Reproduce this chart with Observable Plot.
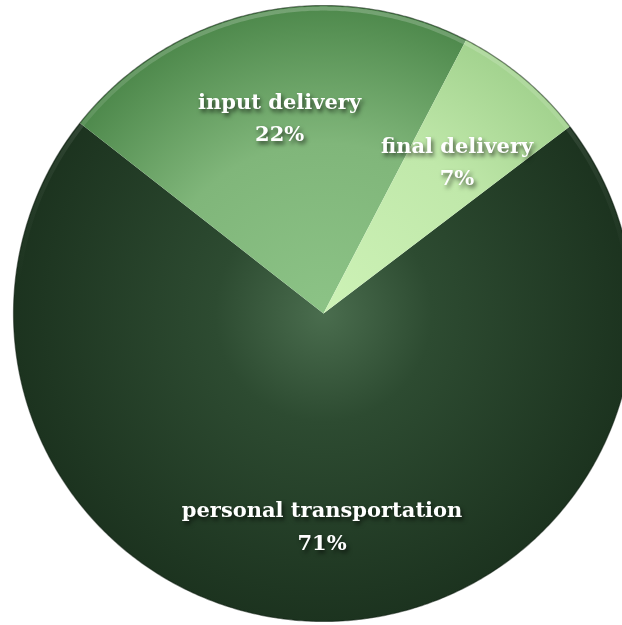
<!DOCTYPE html>
<html><head><meta charset="utf-8">
<script src="https://cdn.jsdelivr.net/npm/d3@7"></script>
<script src="https://cdn.jsdelivr.net/npm/@observablehq/plot@0.6"></script>
<style>
html,body{margin:0;padding:0;background:#fff;overflow:hidden}
#chart svg g[aria-label="text"]{filter: drop-shadow(2px 3px 2px rgba(0,0,0,0.6));}
</style></head><body><div id="chart"></div>
<script>
const categories = ["personal transportation", "input delivery", "final delivery"];
const shares = [71, 22, 7];
const gradientStops = [
  [["0", "#4a6d4e"], ["0.35", "#2d4b31"], ["1", "#1c331f"]],
  [["0", "#8cc386"], ["0.55", "#80b67a"], ["1", "#4d884b"]],
  [["0", "#cdf2b6"], ["0.6", "#c0e8aa"], ["1", "#a2d28e"]]
];
const startDeg = 52.6;

const pie = d3.pie().sort(null).value(d => d.value)
  .startAngle(startDeg * Math.PI / 180)
  .endAngle(startDeg * Math.PI / 180 + 2 * Math.PI);
const arcs = pie(categories.map((c, i) => ({name: c, value: shares[i], k: i})));

// slice outlines in unit-circle data space
const polys = arcs.map(a => {
  const pts = [{x: 0, y: 0}];
  const n = Math.max(2, Math.ceil((a.endAngle - a.startAngle) / (Math.PI / 360)));
  for (let j = 0; j <= n; j++) {
    const t = a.startAngle + (a.endAngle - a.startAngle) * j / n;
    pts.push({x: Math.sin(t), y: Math.cos(t)});
  }
  return pts;
});
const rim = d3.range(0, 721).map(j => ({x: Math.sin(j * Math.PI / 360), y: Math.cos(j * Math.PI / 360)}));
const rimInner = rim.map(p => ({x: p.x * 0.99, y: p.y * 0.99}));
const labels = arcs.map(a => {
  const m = (a.startAngle + a.endAngle) / 2;
  return {x: 0.67 * Math.sin(m), y: 0.67 * Math.cos(m), text: `${a.data.name}\n${a.data.value}%`};
});

const plot = Plot.plot({
  width: 622, height: 625,
  margin: 0,
  x: {domain: [-1, 1], range: [13, 633], axis: null},
  y: {domain: [-1, 1], range: [621, 5], axis: null},
  marks: [
    ...polys.map((p, i) => Plot.line(p, {x: "x", y: "y", curve: "linear-closed", fill: `url(#slice${i})`, stroke: "none"})),
    Plot.line(rimInner, {x: "x", y: "y", stroke: "url(#rimlight)", strokeWidth: 4}),
    Plot.line(rim, {x: "x", y: "y", stroke: "#0e1c0f", strokeOpacity: 0.5, strokeWidth: 1.2}),
    Plot.text(labels, {x: "x", y: "y", dy: 3, text: "text", fill: "white", fontSize: 21, fontWeight: "bold",
      fontFamily: "'DejaVu Serif', 'Liberation Serif', serif", lineHeight: 1.55})
  ]
});

const sx = plot.scale("x"), sy = plot.scale("y");
const cx = sx.apply(0), cy = sy.apply(0), r = sx.apply(1) - sx.apply(0);
const defs = d3.select(plot).insert("defs", ":first-child");
gradientStops.forEach((stops, i) => {
  const g = defs.append("radialGradient").attr("id", `slice${i}`)
    .attr("gradientUnits", "userSpaceOnUse").attr("cx", cx).attr("cy", cy).attr("r", r);
  stops.forEach(([o, c]) => g.append("stop").attr("offset", o).attr("stop-color", c));
});
const lg = defs.append("linearGradient").attr("id", "rimlight")
  .attr("gradientUnits", "userSpaceOnUse").attr("x1", 0).attr("y1", sy.apply(1)).attr("x2", 0).attr("y2", sy.apply(-1));
[["0", 0.22], ["0.25", 0.06], ["0.45", 0.0], ["1", 0.0]].forEach(([o, a]) =>
  lg.append("stop").attr("offset", o).attr("stop-color", "#ffffff").attr("stop-opacity", a));
document.getElementById("chart").append(plot);
</script></body></html>
